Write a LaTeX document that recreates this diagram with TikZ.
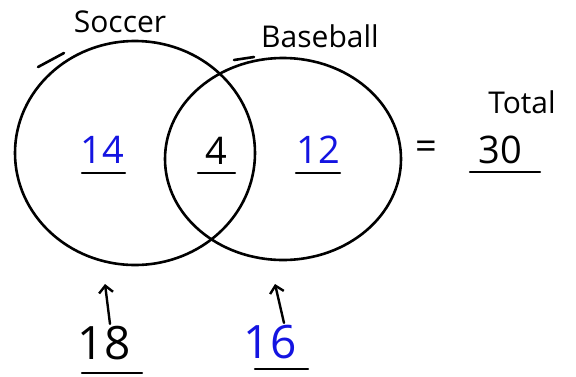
\documentclass[tikz,border=0pt]{standalone}
\usepackage{fontspec}
\setmainfont{Open Sans}
\usetikzlibrary{shapes.geometric,arrows.meta}
\definecolor{penblue}{RGB}{20,20,225}
\begin{document}
\begin{tikzpicture}[x=1pt,y=-1pt,
  ring/.style={draw=black,line width=2.6pt},
  stroke/.style={draw=black,line width=2.6pt,line cap=round},
  lbl/.style={font=\fontsize{30}{32}\selectfont,inner sep=0pt},
  num/.style={font=\fontsize{38}{40}\selectfont,inner sep=0pt},
  bignum/.style={font=\fontsize{46}{48}\selectfont,inner sep=0pt},
  uline/.style={draw=black,line width=2.4pt,line cap=round},
  up/.style={draw=black,line width=2.4pt,line cap=round,-{Straight Barb[length=7pt,width=14pt]}}]
\useasboundingbox (0,0) rectangle (576,376);
% circles
\node[ring,ellipse,minimum width=240pt,minimum height=224pt,inner sep=0pt] (soccer) at (135,153) {};
\node[ring,ellipse,minimum width=236pt,minimum height=202pt,inner sep=0pt] (base) at (283,159) {};
% small pen marks
\draw[stroke] (38,67) -- (64,53);
\draw[stroke] (234,60) -- (254,57);
% labels
\node[lbl] (lsoc) at (120,22) {Soccer};
\node[lbl] (lbase) at (320,36) {Baseball};
\node[lbl] (ltot) at (522,102) {Total};
% numbers
\node[num,text=penblue] (n14) at (102,150) {14};
\node[num] (n4) at (216,151) {4};
\node[num,text=penblue] (n12) at (318,150) {12};
\node[num] (eq) at (426,150) {=};
\node[num] (n30) at (500,150) {30};
\node[bignum] (n18) at (104,343) {18};
\node[bignum,text=penblue] (n16) at (270,342) {16};
% underlines
\coordinate (u14a) at (82,173); \coordinate (u14b) at (125,173);
\coordinate (u4a) at (198,173); \coordinate (u4b) at (235,173);
\coordinate (u12a) at (296,173); \coordinate (u12b) at (340,173);
\coordinate (u30a) at (470,172); \coordinate (u30b) at (540,172);
\coordinate (u18a) at (82,373); \coordinate (u18b) at (142,373);
\coordinate (u16a) at (255,369); \coordinate (u16b) at (308,369);
\draw[uline] (u14a) -- (u14b);
\draw[uline] (u4a) -- (u4b);
\draw[uline] (u12a) -- (u12b);
\draw[uline] (u30a) -- (u30b);
\draw[uline] (u18a) -- (u18b);
\draw[uline] (u16a) -- (u16b);
% arrows
\coordinate (t18) at (105,284);
\coordinate (t16) at (275,284);
\draw[up] (n18.north) ++(6,-2) -- (t18);
\draw[up] (n16.north) ++(14,-2) -- (t16);
\end{tikzpicture}
\end{document}
